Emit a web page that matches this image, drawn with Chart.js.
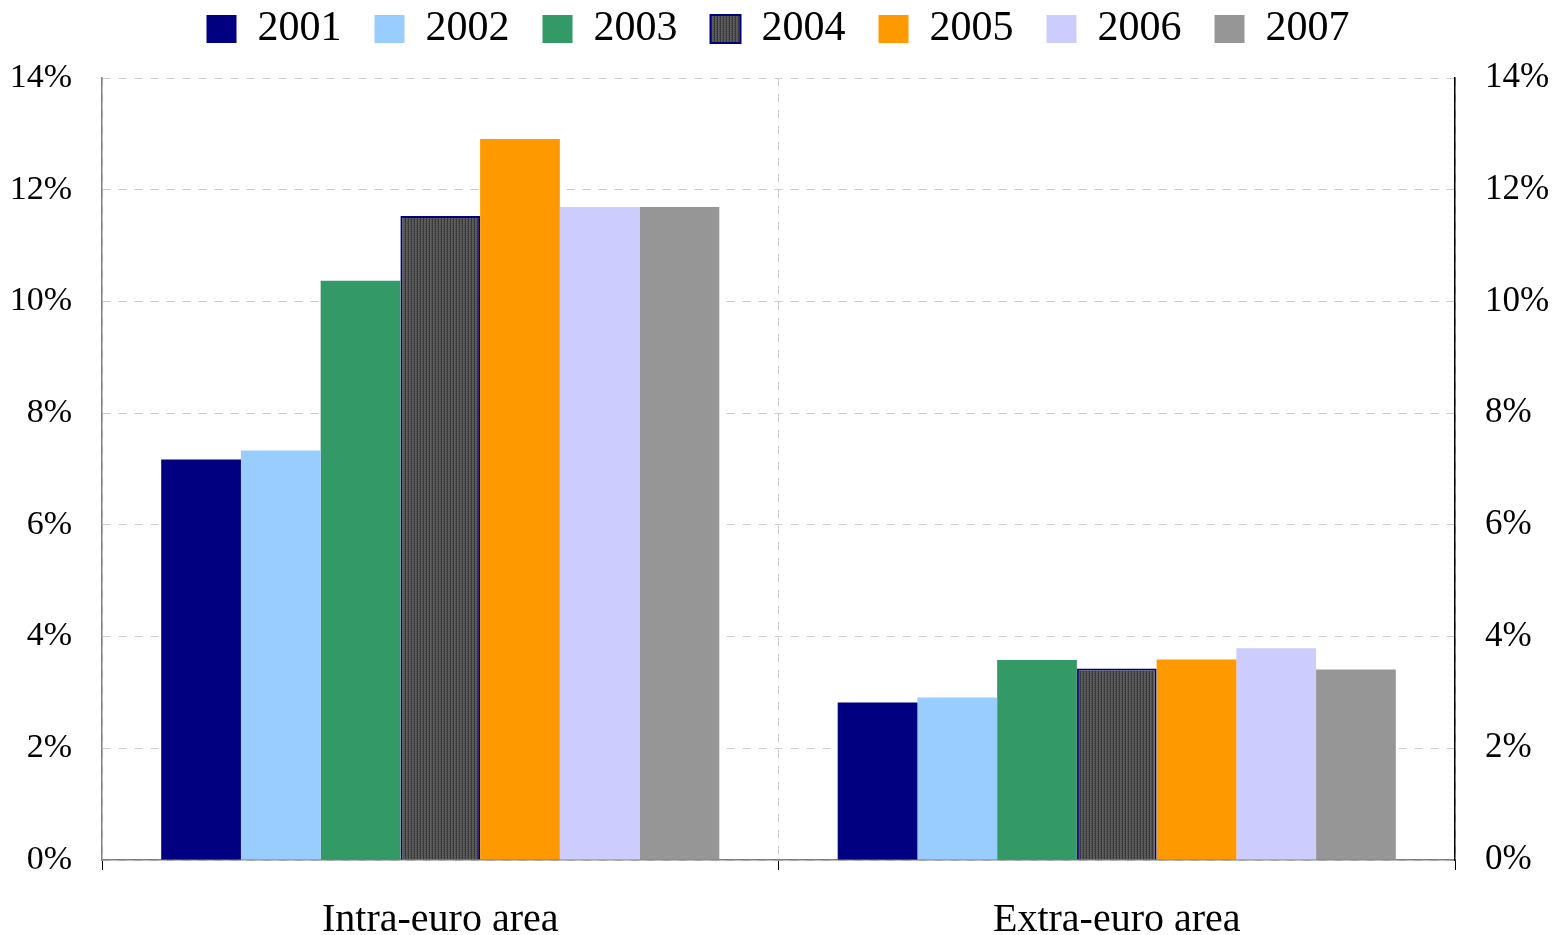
<!DOCTYPE html>
<html>
<head>
<meta charset="utf-8">
<script src="https://cdn.jsdelivr.net/npm/chart.js@4"></script>
<style>
  html, body { margin: 0; padding: 0; background: #fff; }
  #wrap { width: 1556px; height: 935px; }
</style>
</head>
<body>
<div id="wrap"><canvas id="growthChart" width="1556" height="935"></canvas></div>
<script>
    // categories and series (percent)
    const categories = ['Intra-euro area', 'Extra-euro area'];
    const years = ['2001', '2002', '2003', '2004', '2005', '2006', '2007'];
    const v2001 = [7.17, 2.82];
    const v2002 = [7.33, 2.91];
    const v2003 = [10.37, 3.58];
    const v2004 = [11.53, 3.43];
    const v2005 = [12.91, 3.59];
    const v2006 = [11.69, 3.79];
    const v2007 = [11.69, 3.41];
    const yTicks = [0, 2, 4, 6, 8, 10, 12, 14];

    const seriesValues = [v2001, v2002, v2003, v2004, v2005, v2006, v2007];
    const seriesColors = ['#000080', '#99ccff', '#339966', null, '#ff9900', '#ccccff', '#969696'];

    // striped dark fill used for 2004
    function makeStripes() {
        const c = document.createElement('canvas');
        c.width = 3; c.height = 2;
        const g = c.getContext('2d');
        g.fillStyle = '#5c5c5c';
        g.fillRect(0, 0, 3, 2);
        g.fillStyle = '#3a3a3a';
        g.fillRect(0, 0, 1, 2);
        g.fillStyle = '#4a4a4a';
        g.fillRect(2, 1, 1, 1);
        return g.createPattern(c, 'repeat');
    }

    const ctx = document.getElementById('growthChart').getContext('2d');
    const stripes = makeStripes();

    const datasets = years.map((y, i) => ({
        label: y,
        data: seriesValues[i],
        backgroundColor: seriesColors[i] || stripes,
        borderColor: i === 3 ? '#000080' : 'rgba(0,0,0,0)',
        borderWidth: i === 3 ? 2 : 0,
        borderSkipped: i === 3 ? 'bottom' : true,
        categoryPercentage: 0.825,
        barPercentage: 1.0
    }));

    const serif = 'Liberation Serif, Times New Roman, serif';

    // leave some room between the legend and the plot
    const legendGap = {
        id: 'legendGap',
        beforeInit(chart) {
            const fit = chart.legend.fit;
            chart.legend.fit = function () {
                fit.call(this);
                this.height += 18;
            };
        }
    };

    const myChart = new Chart(ctx, {
        type: 'bar',
        data: { labels: categories, datasets: datasets },
        plugins: [legendGap],
        options: {
            responsive: false,
            animation: false,
            layout: { padding: { left: 0, right: 0, top: -25, bottom: 0 } },
            plugins: {
                tooltip: { enabled: false },
                legend: {
                    position: 'top',
                    labels: {
                        font: { family: serif, size: 42 },
                        color: '#000',
                        boxWidth: 30,
                        boxHeight: 28,
                        padding: 33
                    }
                }
            },
            scales: {
                x: {
                    offset: true,
                    afterFit: (s) => { s.height = 75; },
                    grid: {
                        offset: true,
                        color: '#cccccc',
                        tickColor: '#000',
                        tickLength: 10,
                        drawTicks: true
                    },
                    border: { color: '#808080', width: 1.5, dash: [8, 8] },
                    ticks: {
                        font: { family: serif, size: 40 },
                        color: '#000',
                        padding: 26
                    }
                },
                y: {
                    position: 'left',
                    min: 0, max: 14,
                    afterBuildTicks: (s) => { s.ticks = yTicks.map(v => ({ value: v })); },
                    afterFit: (s) => { s.width = 102; },
                    grid: { color: '#cccccc', drawTicks: false },
                    border: { color: '#808080', width: 1.5, dash: [8, 8] },
                    ticks: {
                        font: { family: serif, size: 34 },
                        color: '#000',
                        padding: 30,
                        callback: (v) => v + '%'
                    }
                },
                y2: {
                    position: 'right',
                    min: 0, max: 14,
                    afterBuildTicks: (s) => { s.ticks = yTicks.map(v => ({ value: v })); },
                    afterFit: (s) => { s.width = 101; },
                    grid: { drawOnChartArea: false, drawTicks: false },
                    border: { color: '#000', width: 1.5 },
                    ticks: {
                        font: { family: serif, size: 35 },
                        color: '#000',
                        padding: 30,
                        callback: (v) => v + '%'
                    }
                }
            }
        }
    });
</script>
</body>
</html>
